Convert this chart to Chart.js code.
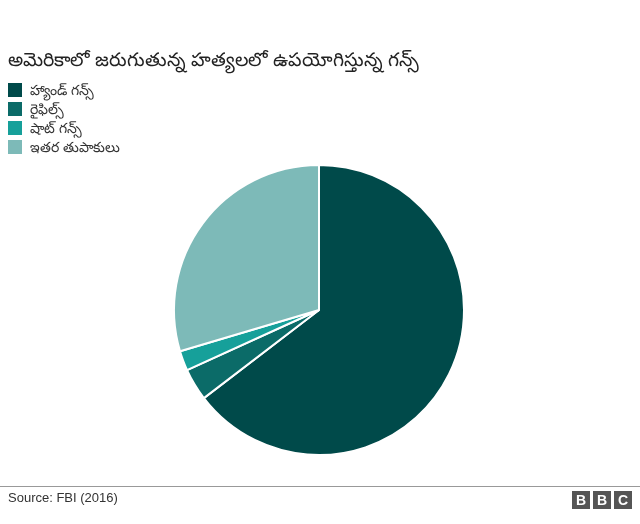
<!DOCTYPE html>
<html><head><meta charset="utf-8">
<script src="https://cdn.jsdelivr.net/npm/chart.js@4"></script>
<style>
body{margin:0;background:#fff;font-family:"Noto Sans",Arial,sans-serif;}
#wrap{position:relative;width:640px;height:524px;}
canvas{position:absolute;left:0;top:0;}
#title{position:absolute;left:8px;top:46px;font-size:19px;color:#222;}
#legend{position:absolute;left:8px;top:80px;font-size:14px;color:#333;line-height:19px;}
#legend div{display:flex;align-items:center;}
#legend span{display:inline-block;width:14px;height:14px;margin-right:8px;}
#rule{position:absolute;left:0;right:0;top:486px;border-top:1px solid #999;}
#src{position:absolute;left:8px;top:490px;font-size:13px;color:#333;font-family:"Liberation Sans",Arial,sans-serif;}
#bbc{position:absolute;right:8px;top:491px;display:flex;gap:3px;}
#bbc b{background:#555;color:#fff;width:18px;height:18px;font:bold 14px "Liberation Sans",Arial;text-align:center;line-height:18px;}
</style></head><body>
<div id="wrap">
<canvas id="c" width="640" height="524"></canvas>
<div id="title">అమెరికాలో జరుగుతున్న హత్యలలో ఉపయోగిస్తున్న గన్స్</div>
<div id="legend"></div>
<div id="rule"></div>
<div id="src">Source: FBI (2016)</div>
<div id="bbc"><b>B</b><b>B</b><b>C</b></div>
</div>
<script>
const labels = ['హ్యాండ్ గన్స్', 'రైఫిల్స్', 'షాట్ గన్స్', 'ఇతర తుపాకులు'];
const values = [64.6, 3.6, 2.2, 29.6];
const colors = ['#004a4a', '#0b6b68', '#16a09a', '#7dbab8'];

const leg = document.getElementById('legend');
labels.forEach((l, i) => {
  const d = document.createElement('div');
  d.innerHTML = '<span style="background:' + colors[i] + '"></span>' + l;
  leg.appendChild(d);
});

new Chart(document.getElementById('c'), {
  type: 'pie',
  data: { labels: labels, datasets: [{ data: values, backgroundColor: colors, borderColor: '#fff', borderWidth: 2 }] },
  options: {
    responsive: false, animation: false,
    layout: { padding: { top: 164, bottom: 68, left: 173, right: 175 } },
    plugins: { legend: { display: false }, tooltip: { enabled: false } }
  }
});
</script>
</body></html>
